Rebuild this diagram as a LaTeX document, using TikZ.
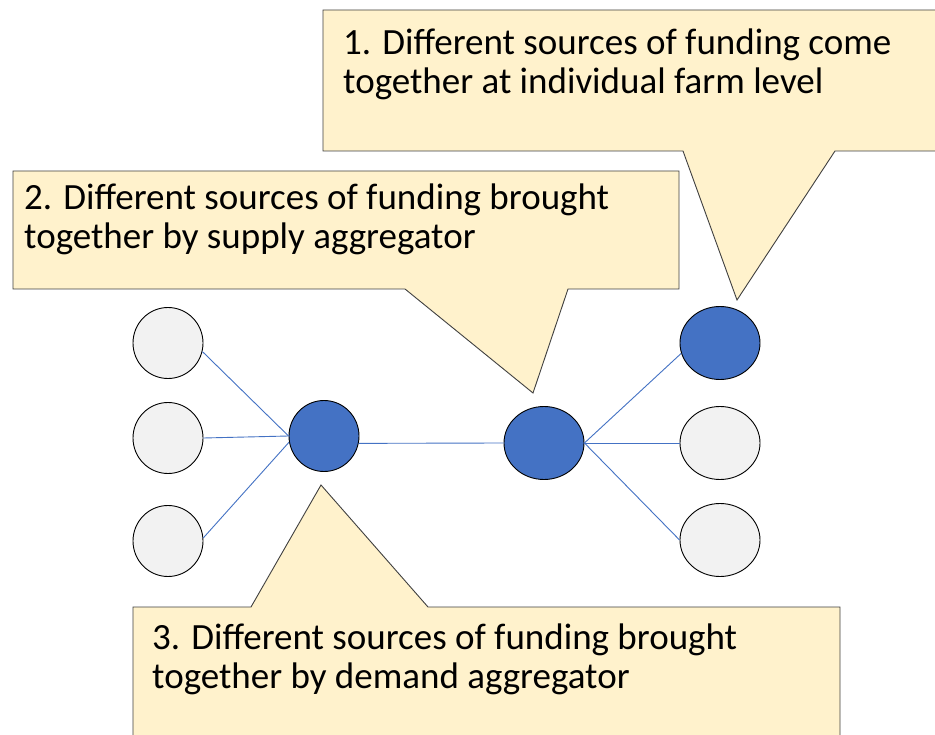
\documentclass[tikz,border=0pt]{standalone}
\usepackage{fontspec}
\setmainfont{Carlito}
\usetikzlibrary{shapes.geometric}
\definecolor{calloutfill}{HTML}{FFF2CC}
\definecolor{calloutline}{HTML}{404040}
\definecolor{nodeblue}{HTML}{4472C4}
\definecolor{nodegray}{HTML}{F2F2F2}
\begin{document}
\begin{tikzpicture}[x=1pt,y=-1pt,
  farm/.style={ellipse,draw=black,line width=0.9pt,inner sep=0pt,
    minimum width=70pt,minimum height=71pt},
  wide/.style={minimum width=80pt,minimum height=73pt},
  graynode/.style={farm,fill=nodegray},
  bluenode/.style={farm,fill=nodeblue},
  link/.style={draw=nodeblue,line width=0.9pt},
  callout/.style={fill=calloutfill,draw=calloutline,line width=0.9pt,line join=miter},
  note/.style={anchor=north west,align=left,inner sep=0pt,
    font=\fontsize{37}{39}\selectfont}]
\clip (0,0) rectangle (935,735);
\fill[white] (0,0) rectangle (935,735);

% farms and aggregators
\node[graynode] (g1) at (168,343) {};
\node[graynode] (g2) at (168,438) {};
\node[graynode] (g3) at (168,541) {};
\node[bluenode] (b1) at (324,436) {};
\node[bluenode,wide] (b2) at (544,443) {};
\node[bluenode,wide] (r1) at (720,343) {};
\node[graynode,wide] (r2) at (720,443) {};
\node[graynode,wide] (r3) at (720,540) {};

% links
\draw[link] (g1.-14) -- (b1.west);
\draw[link] (g2.east) -- (b1.west);
\draw[link] (g3.5) -- (b1.190);
\draw[link] (b1.-12) -- (b2.west);
\draw[link] (b2.east) -- (r1.195);
\draw[link] (b2.east) -- (r2.west);
\draw[link] (b2.east) -- (r3.west);

% callout 1
\draw[callout] (323,10) -- (945,10) -- (945,151) -- (835,151) -- (737,300)
  -- (683,151) -- (323,151) -- cycle;
\node[note] (t1) at (343,29) {1. Different sources of funding come\\together at individual farm level};

% callout 2
\draw[callout] (13,171) -- (679,171) -- (679,289) -- (568,289) -- (533,393)
  -- (405,289) -- (13,289) -- cycle;
\node[note] (t2) at (24,184) {2. Different sources of funding brought\\together by supply aggregator};

% callout 3
\draw[callout] (133,607) -- (251,607) -- (321,485) -- (428,607) -- (840,607)
  -- (840,745) -- (133,745) -- cycle;
\node[note] (t3) at (152,624) {3. Different sources of funding brought\\together by demand aggregator};
\end{tikzpicture}
\end{document}
